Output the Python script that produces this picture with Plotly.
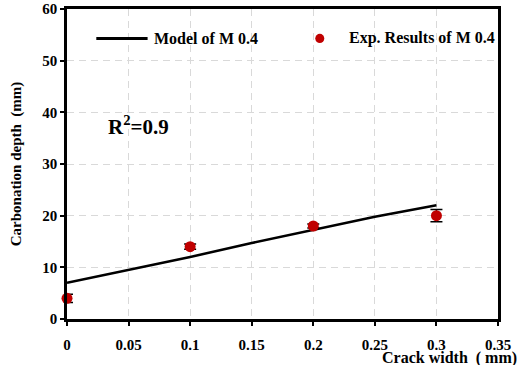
import plotly.graph_objects as go

# Crack width (mm) and carbonation depth (mm)
model_x = [0.0, 0.05, 0.1, 0.15, 0.2, 0.25, 0.3]
model_y = [7.0, 9.5, 12.0, 14.7, 17.3, 19.8, 22.0]

exp_x = [0.0, 0.1, 0.2, 0.3]
exp_y = [4.0, 14.0, 18.0, 20.0]
exp_err = [0.8, 0.5, 0.4, 1.2]

x_ticks = [0, 0.05, 0.1, 0.15, 0.2, 0.25, 0.3, 0.35]
x_tick_text = ["0", "0.05", "0.1", "0.15", "0.2", "0.25", "0.3", "0.35"]
y_ticks = [0, 10, 20, 30, 40, 50, 60]

FONT = "Liberation Serif"

fig = go.Figure()
fig.add_trace(go.Scatter(
    x=model_x, y=model_y, mode="lines",
    line=dict(color="black", width=2.5),
    name="Model of M 0.4", showlegend=False, cliponaxis=False,
))
fig.add_trace(go.Scatter(
    x=exp_x, y=exp_y, mode="markers",
    marker=dict(color="#c00000", size=11),
    error_y=dict(type="data", array=exp_err, color="black", thickness=1.5, width=6),
    name="Exp. Results of M 0.4", showlegend=False, cliponaxis=False,
))

# Legend drawn inside the plot area
fig.add_shape(type="line", xref="paper", yref="paper",
              x0=0.068, x1=0.187, y0=0.905, y1=0.905,
              line=dict(color="black", width=3))
fig.add_annotation(xref="paper", yref="paper", x=0.198, y=0.905,
                   text="<b>Model of M 0.4</b>", showarrow=False,
                   xanchor="left", yanchor="middle",
                   font=dict(family=FONT, size=16, color="black"))
fig.add_shape(type="circle", xref="paper", yref="paper",
              x0=0.576, x1=0.597, y0=0.890, y1=0.920,
              fillcolor="#c00000", line=dict(color="#c00000", width=0))
fig.add_annotation(xref="paper", yref="paper", x=0.650, y=0.905,
                   text="<b>Exp. Results of M 0.4</b>", showarrow=False,
                   xanchor="left", yanchor="middle",
                   font=dict(family=FONT, size=16, color="black"))

fig.add_annotation(xref="paper", yref="paper", x=0.090, y=0.625,
                   text="<b>R<sup>2</sup>=0.9</b>", showarrow=False,
                   xanchor="left", yanchor="middle",
                   font=dict(family=FONT, size=21, color="black"))

fig.add_annotation(xref="paper", yref="paper", x=1.049, y=-0.125,
                   text="<b>Crack width  ( mm)</b>", showarrow=False,
                   xanchor="right", yanchor="middle",
                   font=dict(family=FONT, size=16, color="black"))

grid = dict(showgrid=True, gridcolor="#d9d9d9", gridwidth=1.2, griddash="7px,5px")

fig.update_xaxes(
    range=[0, 0.35], tickvals=x_ticks, ticktext=x_tick_text,
    showline=True, linecolor="black", linewidth=2.5, mirror=True,
    ticks="outside", ticklen=4, tickcolor="black", tickwidth=1.5,
    ticklabelstandoff=6,
    tickfont=dict(family=FONT, size=15, color="black", weight="bold"),
    zeroline=False, automargin=False, **grid,
)
fig.update_yaxes(
    range=[0, 60], tickvals=y_ticks,
    showline=True, linecolor="black", linewidth=2.5, mirror=True,
    ticks="outside", ticklen=4, tickcolor="black", tickwidth=1.5,
    tickfont=dict(family=FONT, size=15, color="black", weight="bold"),
    zeroline=False, automargin=False,
    title=dict(text="<b>Carbonation depth  (mm)</b>",
               font=dict(family=FONT, size=15, color="black"), standoff=18),
    **grid,
)

fig.update_layout(
    width=524, height=365,
    margin=dict(l=67, r=26, t=9, b=46, autoexpand=False),
    paper_bgcolor="white", plot_bgcolor="white",
    font=dict(family=FONT, color="black"),
)

fig.write_html("out.html")
